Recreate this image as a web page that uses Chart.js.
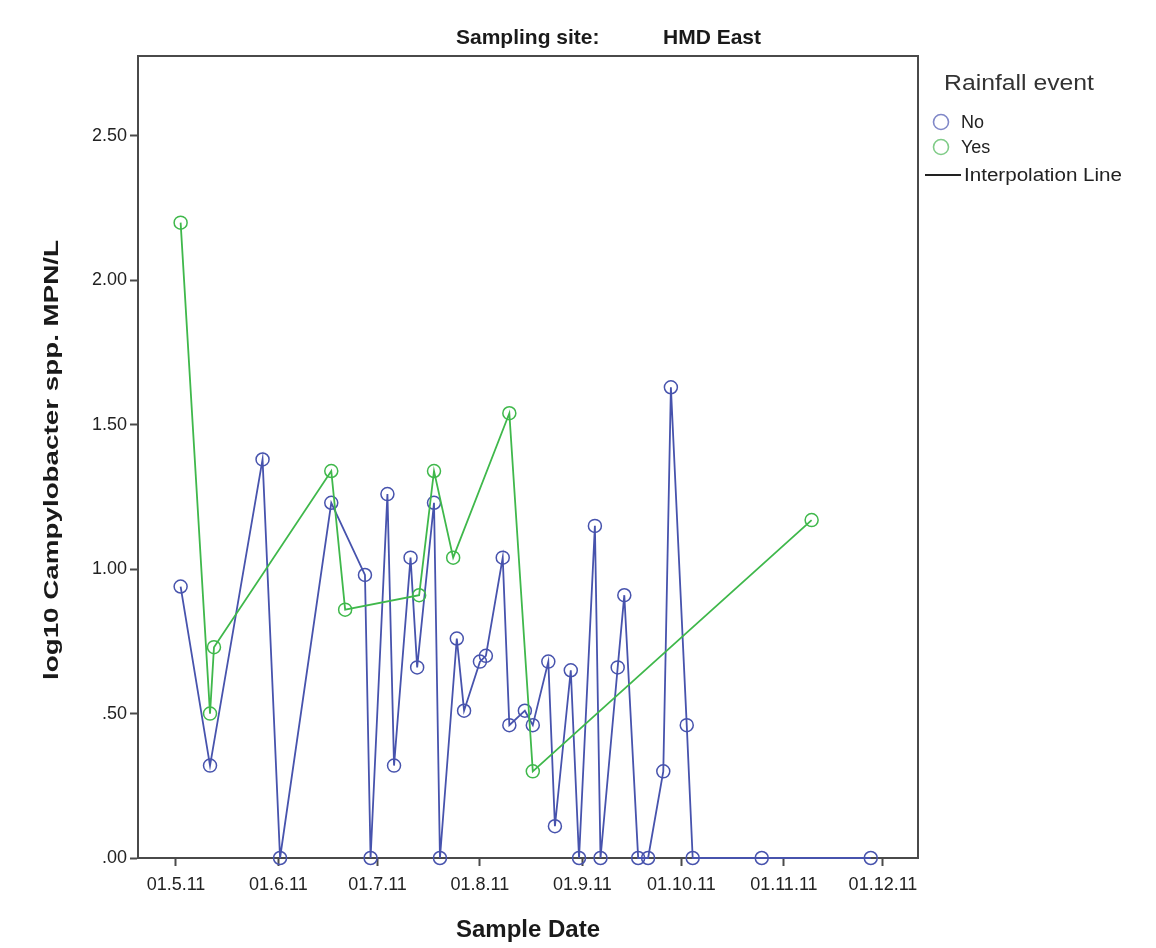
<!DOCTYPE html>
<html><head><meta charset="utf-8">
<script src="https://cdn.jsdelivr.net/npm/chart.js@4.4.0/dist/chart.umd.min.js"></script>
<style>html,body{margin:0;padding:0;background:#fff}canvas{display:block}</style>
</head><body>
<canvas id="c" width="1156" height="948"></canvas>
<script>
// ---- Data (x = days since 01.5.11) ----
const siteLabel = 'Sampling site:';
const siteName = 'HMD East';
const legendTitle = 'Rainfall event';
const seriesNames = ['No', 'Yes'];
const interpolationLabel = 'Interpolation Line';
const xAxisTitle = 'Sample Date';
const yAxisTitle = 'log10 Campylobacter spp. MPN/L';

const noDays = [1.4, 10.3, 26.2, 31.5, 47, 57.2, 58.9, 64, 66, 71, 73, 78.1, 79.9, 85, 87.2, 92, 93.8, 98.9, 100.9, 105.6, 108, 112.7, 114.7, 119.5, 122, 126.8, 128.5, 133.7, 135.7, 139.9, 142.9, 147.5, 149.8, 154.6, 156.4, 177.3, 210.3];
const noValues = [0.94, 0.32, 1.38, 0, 1.23, 0.98, 0, 1.26, 0.32, 1.04, 0.66, 1.23, 0, 0.76, 0.51, 0.68, 0.70, 1.04, 0.46, 0.51, 0.46, 0.68, 0.11, 0.65, 0, 1.15, 0, 0.66, 0.91, 0, 0, 0.30, 1.63, 0.46, 0, 0, 0];

const yesDays = [1.4, 10.3, 11.5, 47, 51.2, 73.6, 78.1, 83.9, 100.9, 108, 192.4];
const yesValues = [2.20, 0.50, 0.73, 1.34, 0.86, 0.91, 1.34, 1.04, 1.54, 0.30, 1.17];

const xTickDays = [0, 31, 61, 92, 123, 153, 184, 214];
const xTickLabels = ['01.5.11', '01.6.11', '01.7.11', '01.8.11', '01.9.11', '01.10.11', '01.11.11', '01.12.11'];
const yTickValues = [0, 0.5, 1.0, 1.5, 2.0, 2.5];
const yTickLabels = ['.00', '.50', '1.00', '1.50', '2.00', '2.50'];

// ---- Styling ----
const FONT = '"Liberation Sans", Arial, sans-serif';
const BLUE = '#4753ad';
const GREEN = '#3fb84b';
const AXIS = '#4a4a4a';

function toPoints(xs, ys) { return xs.map((x, i) => ({ x: x, y: ys[i] })); }

function fitText(ctx, text, x, y, font, width, align) {
  ctx.save();
  ctx.font = font;
  const w = ctx.measureText(text).width;
  const s = width ? width / w : 1;
  ctx.translate(x, y);
  ctx.scale(s, 1);
  ctx.textBaseline = 'middle';
  ctx.textAlign = align || 'left';
  ctx.fillText(text, 0, 0);
  ctx.restore();
}

const deco = {
  id: 'deco',
  beforeDraw(chart) {
    const ctx = chart.ctx;
    ctx.save();
    ctx.fillStyle = '#fff';
    ctx.fillRect(0, 0, chart.width, chart.height);
    ctx.restore();
  },
  afterDraw(chart) {
    const ctx = chart.ctx;
    const a = chart.chartArea;
    ctx.save();
    // top & right frame
    ctx.strokeStyle = AXIS;
    ctx.lineWidth = 2;
    ctx.beginPath();
    ctx.moveTo(a.left, a.top);
    ctx.lineTo(a.right, a.top);
    ctx.lineTo(a.right, a.bottom);
    ctx.stroke();

    ctx.fillStyle = '#1a1a1a';
    // title
    fitText(ctx, siteLabel, 456, 38, 'bold 21px ' + FONT, 0, 'left');
    fitText(ctx, siteName, 663, 38, 'bold 21px ' + FONT, 0, 'left');
    // x axis title
    fitText(ctx, xAxisTitle, 528, 930, 'bold 24px ' + FONT, 0, 'center');
    // y axis title
    ctx.save();
    ctx.translate(52, 460);
    ctx.rotate(-Math.PI / 2);
    fitText(ctx, yAxisTitle, 0, 0, 'bold 21px ' + FONT, 440, 'center');
    ctx.restore();

    // legend
    ctx.fillStyle = '#333';
    fitText(ctx, legendTitle, 944, 84, '22px ' + FONT, 150, 'left');
    ctx.lineWidth = 1.6;
    ctx.strokeStyle = '#8088c8';
    ctx.beginPath(); ctx.arc(941, 122, 7.5, 0, Math.PI * 2); ctx.stroke();
    ctx.strokeStyle = '#80cc88';
    ctx.beginPath(); ctx.arc(941, 147, 7.5, 0, Math.PI * 2); ctx.stroke();
    ctx.fillStyle = '#222';
    fitText(ctx, seriesNames[0], 961, 123, '18px ' + FONT, 0, 'left');
    fitText(ctx, seriesNames[1], 961, 148, '18px ' + FONT, 0, 'left');
    ctx.strokeStyle = '#222';
    ctx.lineWidth = 2;
    ctx.beginPath(); ctx.moveTo(925, 175); ctx.lineTo(961, 175); ctx.stroke();
    fitText(ctx, interpolationLabel, 964, 176, '18px ' + FONT, 158, 'left');
    ctx.restore();
  }
};

new Chart(document.getElementById('c'), {
  type: 'line',
  data: {
    datasets: [
      {
        label: seriesNames[1],
        data: toPoints(yesDays, yesValues),
        borderColor: GREEN,
        borderWidth: 1.8,
        pointRadius: 6.5,
        pointBorderWidth: 1.5,
        pointBorderColor: GREEN,
        pointBackgroundColor: 'rgba(0,0,0,0)',
        tension: 0,
        clip: false
      },
      {
        label: seriesNames[0],
        data: toPoints(noDays, noValues),
        borderColor: BLUE,
        borderWidth: 1.8,
        pointRadius: 6.5,
        pointBorderWidth: 1.5,
        pointBorderColor: BLUE,
        pointBackgroundColor: 'rgba(0,0,0,0)',
        tension: 0,
        clip: false
      }
    ]
  },
  options: {
    responsive: false,
    animation: false,
    devicePixelRatio: 1,
    layout: { padding: { top: 56, right: 238, left: 0, bottom: 0 } },
    plugins: { legend: { display: false }, tooltip: { enabled: false }, title: { display: false } },
    scales: {
      x: {
        type: 'linear',
        min: -11.5,
        max: 224.6,
        afterFit: s => { s.height = 90; },
        afterBuildTicks: s => { s.ticks = xTickDays.map(v => ({ value: v })); },
        ticks: {
          autoSkip: false,
          maxRotation: 0,
          padding: 8,
          color: '#222',
          font: { family: FONT, size: 18 },
          callback: (v) => xTickLabels[xTickDays.indexOf(v)]
        },
        grid: { drawOnChartArea: false, drawTicks: true, tickLength: 8, tickColor: AXIS, tickWidth: 2 },
        border: { display: true, color: AXIS, width: 2 }
      },
      y: {
        type: 'linear',
        min: 0,
        max: 2.777,
        afterFit: s => { s.width = 138; },
        afterBuildTicks: s => { s.ticks = yTickValues.map(v => ({ value: v })); },
        ticks: {
          padding: 3,
          color: '#222',
          font: { family: FONT, size: 18 },
          callback: (v) => yTickLabels[yTickValues.indexOf(v)]
        },
        grid: { drawOnChartArea: false, drawTicks: true, tickLength: 8, tickColor: AXIS, tickWidth: 2 },
        border: { display: true, color: AXIS, width: 2 }
      }
    }
  },
  plugins: [deco]
});
</script>
</body></html>
